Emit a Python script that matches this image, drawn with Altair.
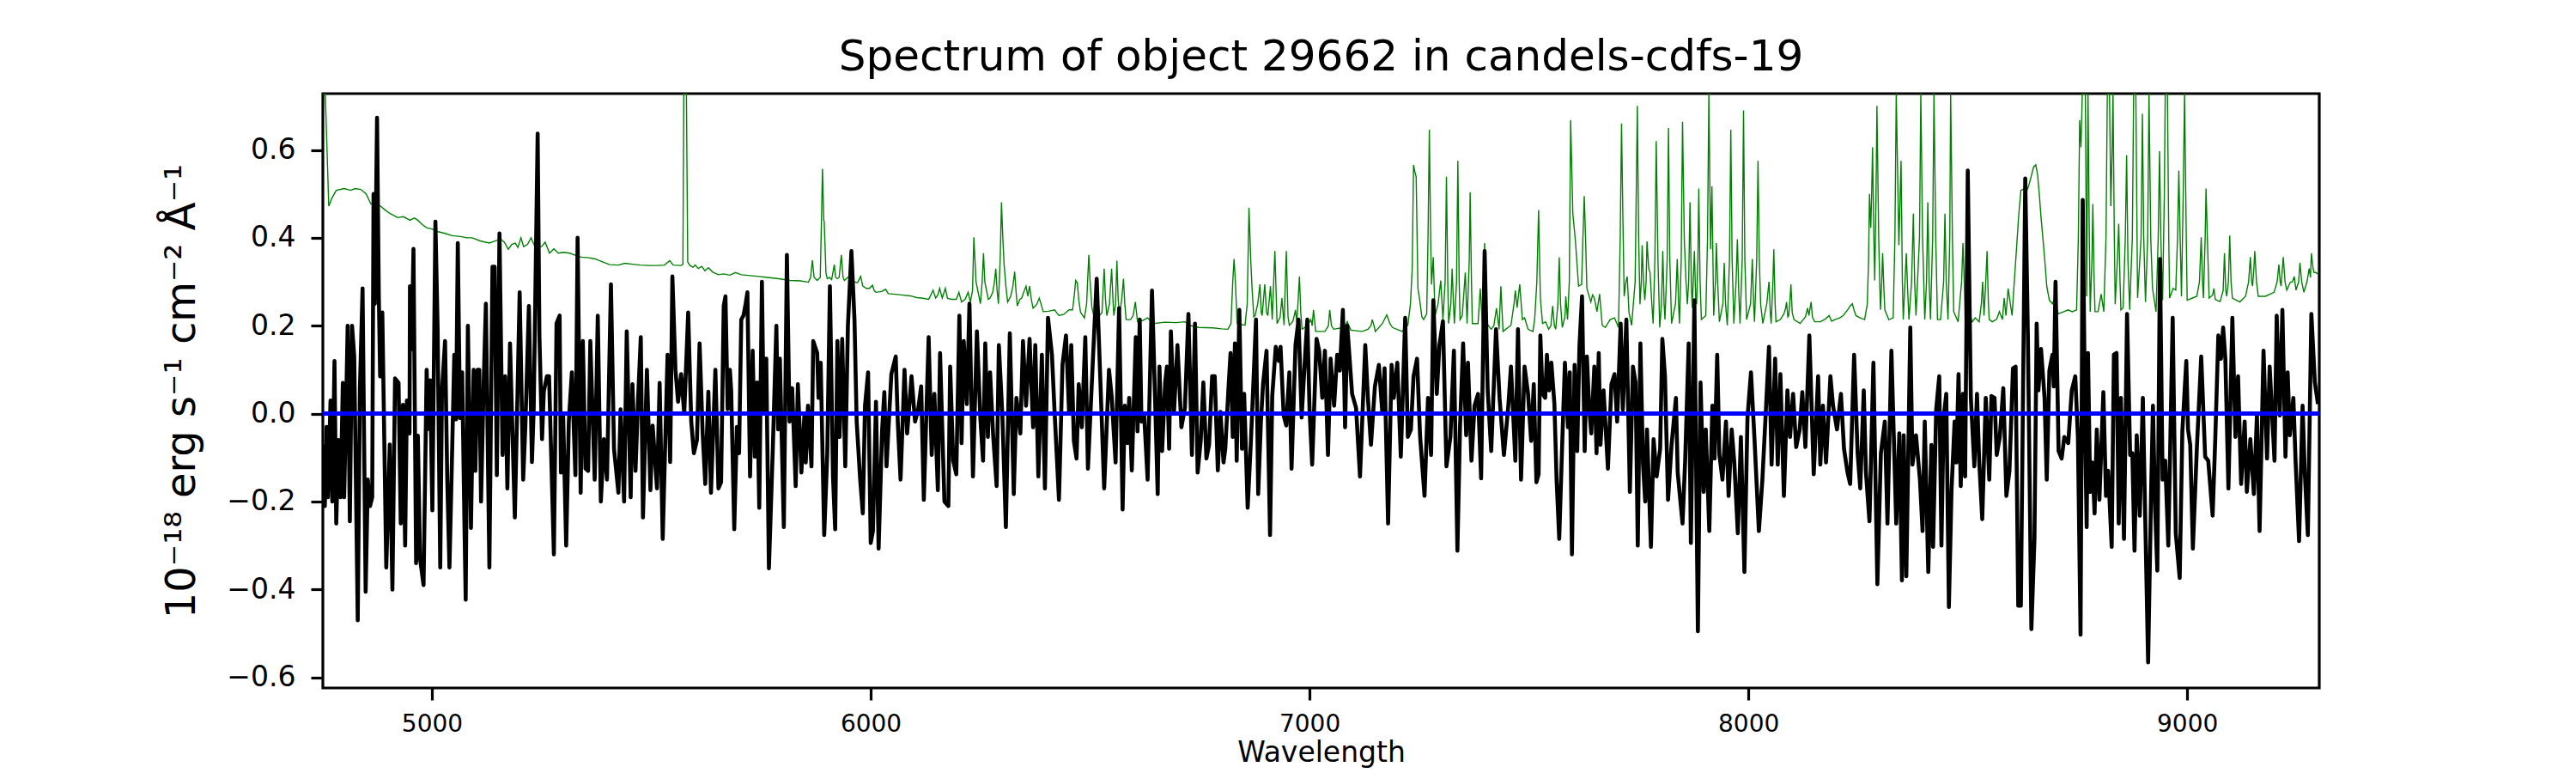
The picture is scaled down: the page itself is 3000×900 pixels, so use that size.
import altair as alt
import pandas as pd

TITLE = "Spectrum of object 29662 in candels-cdfs-19"
X_TITLE = "Wavelength"
Y_TITLE = "10⁻¹⁸ erg s⁻¹ cm⁻² Å⁻¹"
X_TICKS = [5000, 6000, 7000, 8000, 9000]
Y_TICKS = [-0.6, -0.4, -0.2, 0.0, 0.2, 0.4, 0.6]
X_DOMAIN = [4751.5, 9301]
Y_DOMAIN = [-0.624, 0.728]
ZERO_LEVEL = 0.0

# observed flux (wavelength, flux)
FLUX_A = [(4752,-0.07),(4756,-0.21),(4760,-0.03),(4763,-0.19),(4769,0.03),(4773,-0.2),(4778,0.12),(4782,-0.25),(4787,-0.06),(4792,-0.19),(4797,0.07),(4800,-0.19),(4805,0.04),(4808,0.2),(4813,-0.245),(4818,0.2),(4823,0.13),(4831,-0.47),(4836,0.06),(4842,0.285),(4849,-0.405),(4854,-0.15),(4859,-0.21),(4864,-0.19),(4867,0.5),(4870,0.25),(4875,0.673),(4879,0.27),(4882,0.085),(4887,0.23),(4896,-0.35),(4904,-0.07),(4910,-0.4),(4916,0.08),(4924,0.07),(4929,-0.25),(4934,0.02),(4939,-0.3),(4943,0.03),(4949,-0.045),(4950,0.29),(4954,0.147),(4958,0.375),(4964,-0.34),(4968,-0.05),(4973,-0.33),(4981,-0.39),(4988,0.1),(4992,-0.035),(4996,0.076),(5001,-0.22),(5008,0.437),(5013,0.196),(5019,-0.35),(5023,0.053),(5030,0.165),(5035,-0.15),(5040,-0.35),(5045,-0.134),(5051,0.134),(5055,-0.013),(5059,0.388),(5064,-0.01),(5069,0.094),(5074,-0.24),(5077,-0.423),(5082,0.2),(5089,-0.26),(5095,0.1),(5099,-0.13),(5104,0.1),(5108,0.1),(5112,-0.2),(5118,0.07),(5123,0.25),(5131,-0.35),(5138,0.334),(5143,0.334),(5148,-0.14),(5154,0.41),(5161,-0.094),(5167,0.085),(5172,-0.17),(5178,0.16),(5189,-0.236),(5200,0.276),(5208,-0.15),(5213,-0.027),(5221,0.245),(5228,-0.11),(5232,0.013),(5241,0.637),(5245,0.178),(5251,-0.058),(5255,0.05),(5262,0.085),(5267,0.085),(5278,-0.32),(5284,0.205),(5291,0.223),(5294,-0.134),(5299,0.0),(5306,-0.3),(5312,-0.018),(5319,0.094),(5327,-0.14),(5332,0.4),(5339,-0.18),(5344,0.165),(5350,-0.125),(5356,-0.13),(5361,0.165),(5371,-0.15),(5378,0.223),(5385,-0.2),(5392,-0.058),(5399,-0.15),(5408,0.294),(5415,-0.08),(5425,-0.18),(5430,0.01),(5438,-0.2),(5444,0.187),(5453,-0.19),(5457,0.067),(5464,-0.13),(5470,0.036),(5476,0.174),(5481,-0.236),(5490,0.1),(5498,-0.174),(5503,-0.027),(5513,-0.17),(5519,0.07),(5526,-0.285),(5537,0.134),(5543,-0.11),(5548,0.312),(5555,0.1),(5561,0.027),(5568,0.09),(5575,0.0),(5584,0.23),(5591,-0.018),(5597,-0.09),(5604,-0.06),(5610,0.16),(5617,-0.045),(5623,-0.16),(5630,0.05),(5636,-0.18),(5646,0.1),(5653,-0.17),(5659,-0.156),(5665,0.245),(5669,0.267),(5674,0.01),(5679,0.1)]
FLUX_B = [(5682,0.053),(5689,-0.263),(5695,-0.03),(5700,-0.09),(5705,0.214),(5710,0.223),(5715,0.25),(5719,0.276),(5725,-0.143),(5731,0.143),(5736,-0.098),(5741,0.071),(5746,-0.214),(5752,0.3),(5756,0.009),(5762,0.125),(5768,-0.352),(5777,-0.076),(5785,0.2),(5789,-0.036),(5793,0.125),(5802,-0.258),(5809,0.361),(5815,-0.018),(5821,0.058),(5829,-0.165),(5834,0.067),(5842,-0.134),(5849,0.0),(5852,-0.111),(5857,0.018),(5865,-0.12),(5869,0.165),(5878,0.138),(5881,0.036),(5886,0.116),(5894,-0.276),(5901,-0.09),(5907,0.29),(5914,-0.143),(5919,-0.263),(5924,0.165),(5929,-0.053),(5935,0.17),(5942,-0.12),(5948,0.2),(5956,0.37),(5963,0.214),(5968,-0.018),(5976,-0.15),(5982,-0.227),(5987,0.018),(5994,0.094),(6000,-0.294),(6005,-0.267),(6012,0.027),(6018,-0.307),(6026,-0.036),(6031,0.049),(6036,-0.12),(6047,0.09),(6057,0.13),(6062,-0.027),(6068,-0.15),(6077,0.1),(6083,-0.045),(6093,0.085),(6101,-0.018),(6108,0.009),(6115,0.062),(6121,-0.196),(6132,0.174),(6139,-0.094),(6145,0.045),(6153,-0.174),(6158,0.138),(6168,-0.2),(6177,-0.21),(6181,0.107),(6188,-0.107),(6195,-0.138),(6202,0.223),(6207,-0.067),(6212,0.165),(6219,0.022),(6225,0.25),(6233,-0.143),(6242,0.187),(6250,-0.013),(6256,-0.107),(6261,0.16),(6267,-0.053),(6272,0.094),(6279,-0.049),(6287,-0.165),(6292,0.156),(6300,-0.004),(6308,-0.258),(6317,0.183),(6326,-0.183),(6332,0.036),(6341,-0.045),(6347,0.165),(6354,0.018),(6362,0.17),(6370,-0.031),(6375,0.156),(6382,-0.143),(6390,0.134),(6397,-0.17),(6404,0.218),(6413,0.134),(6419,0.004),(6429,-0.196),(6437,0.111),(6445,0.178),(6452,0.004),(6457,0.156),(6463,-0.062),(6469,-0.102),(6474,0.067),(6481,-0.031),(6489,0.174),(6495,-0.125),(6506,0.116),(6515,0.307),(6523,0.085),(6532,-0.17),(6543,0.1),(6549,0.04),(6558,-0.111),(6566,0.24),(6574,-0.218),(6579,0.018),(6585,-0.067),(6589,0.036),(6595,-0.129)]
FLUX_C = [(6604,0.174),(6608,-0.04),(6613,0.214),(6617,-0.018),(6623,0.0),(6631,-0.15),(6641,0.28),(6647,0.071),(6654,-0.183),(6658,0.107),(6664,-0.085),(6671,0.071),(6675,0.107),(6680,-0.08),(6684,0.187),(6691,0.0),(6699,0.156),(6708,-0.031),(6716,0.013),(6724,0.227),(6732,-0.094),(6739,0.205),(6745,-0.134),(6752,-0.062),(6758,0.071),(6765,-0.102),(6771,-0.071),(6778,0.085),(6784,0.085),(6791,-0.129),(6797,0.004),(6804,-0.111),(6808,-0.08),(6815,0.053),(6820,0.138),(6825,-0.053),(6830,0.16),(6834,-0.107),(6840,0.236),(6846,-0.08),(6851,0.045),(6859,-0.214),(6866,-0.071),(6871,0.045),(6878,0.214),(6883,-0.183),(6889,-0.022),(6894,0.067),(6902,0.143),(6910,-0.276),(6915,0.04),(6923,0.152),(6930,0.12),(6934,0.152),(6941,-0.004),(6947,-0.027),(6954,0.094),(6959,-0.125),(6968,0.156),(6975,0.214),(6982,-0.009),(6990,0.134),(6995,0.214),(7000,0.009),(7006,-0.116),(7016,0.17),(7022,0.143),(7029,0.036),(7035,0.143),(7042,-0.094),(7048,0.125),(7056,0.018),(7063,0.134),(7069,0.098),(7076,0.236),(7081,-0.031),(7086,0.2),(7097,0.045),(7106,0.013),(7115,-0.143),(7127,0.156),(7133,0.036),(7140,-0.071),(7149,0.062),(7158,0.111),(7166,0.0),(7171,0.103),(7179,-0.25),(7187,0.111),(7192,0.036),(7200,0.116),(7208,-0.098),(7218,0.218),(7224,-0.053),(7231,-0.036),(7237,0.085),(7245,0.125),(7252,-0.053),(7262,-0.187),(7270,0.036),(7277,-0.094),(7282,0.258),(7290,0.045),(7296,0.156),(7304,0.21),(7312,-0.12),(7321,-0.053),(7329,0.143),(7337,-0.312),(7343,-0.027),(7350,0.16),(7357,-0.049),(7361,0.116),(7369,-0.107),(7376,0.018),(7384,0.045),(7391,-0.147),(7399,0.37),(7406,0.053),(7414,-0.085),(7425,0.192),(7433,0.036),(7443,-0.094),(7453,0.018),(7459,0.107),(7469,-0.107),(7475,0.192),(7482,-0.15),(7490,0.107),(7498,0.045),(7505,-0.062),(7511,0.067),(7517,-0.156)]
FLUX_D = [(7522,-0.138),(7526,0.178),(7531,0.045),(7537,0.036),(7541,0.134),(7546,0.053),(7551,0.116),(7558,0.022),(7563,-0.15),(7569,-0.285),(7576,-0.062),(7582,0.116),(7589,-0.031),(7593,0.094),(7598,-0.32),(7604,0.111),(7610,-0.085),(7615,0.152),(7621,0.267),(7627,-0.085),(7632,0.13),(7637,0.018),(7642,-0.045),(7649,0.107),(7654,-0.09),(7659,0.138),(7663,-0.071),(7670,0.053),(7680,-0.125),(7688,0.067),(7695,0.09),(7701,-0.018),(7709,0.205),(7714,0.009),(7722,0.214),(7730,-0.178),(7737,0.107),(7743,0.071),(7748,-0.3),(7754,0.16),(7760,-0.116),(7765,-0.2),(7769,-0.036),(7778,-0.303),(7784,-0.058),(7791,-0.143),(7799,-0.08),(7804,0.17),(7810,0.085),(7817,-0.196),(7825,-0.071),(7835,0.036),(7839,-0.134),(7850,-0.25),(7856,-0.107),(7864,0.16),(7869,-0.294),(7877,0.258),(7885,-0.495),(7891,0.071),(7898,-0.178),(7903,-0.036),(7911,-0.267),(7918,0.018),(7923,-0.102),(7929,0.134),(7934,-0.094),(7941,-0.15),(7949,-0.018),(7955,-0.187),(7962,-0.036),(7968,-0.111),(7976,-0.272),(7983,-0.053),(7991,-0.36),(7998,-0.009),(8006,0.094),(8014,-0.058),(8024,-0.267),(8032,-0.15),(8040,0.009),(8047,0.152),(8053,-0.116),(8061,0.125),(8067,-0.116),(8073,0.09),(8081,-0.187),(8089,0.053),(8095,-0.053),(8102,0.045),(8109,-0.076),(8117,-0.036),(8123,0.049),(8130,-0.076),(8139,0.178),(8149,-0.138),(8159,0.085),(8164,-0.116),(8170,0.018),(8177,-0.111),(8187,0.085),(8193,0.018),(8202,-0.036),(8211,0.045),(8218,-0.08),(8226,-0.134),(8232,-0.16),(8241,0.134),(8249,-0.09),(8255,-0.17),(8263,0.053),(8268,-0.134),(8276,-0.245),(8285,0.116),(8294,-0.388),(8302,-0.09),(8311,-0.018),(8317,-0.25),(8326,0.143),(8337,-0.25),(8344,-0.045),(8350,-0.379),(8354,-0.049),(8360,-0.37),(8369,0.196),(8374,-0.116),(8382,-0.049),(8391,-0.15),(8397,-0.267),(8402,-0.018),(8410,-0.36),(8417,-0.071),(8421,-0.303),(8428,0.009),(8435,0.085)]
FLUX_E = [(8440,-0.3),(8445,-0.009),(8451,0.045),(8457,-0.44),(8463,-0.174),(8470,-0.018),(8474,-0.111),(8479,0.09),(8484,-0.165),(8489,0.045),(8494,-0.143),(8500,0.553),(8507,0.036),(8515,-0.12),(8521,0.045),(8526,-0.107),(8533,-0.24),(8541,0.036),(8549,-0.15),(8554,0.04),(8561,0.036),(8566,-0.094),(8573,-0.053),(8581,0.058),(8588,-0.187),(8595,-0.13),(8603,0.103),(8609,0.107),(8615,-0.437),(8621,-0.437),(8631,0.535),(8637,0.178),(8645,-0.49),(8652,-0.285),(8657,0.205),(8661,0.053),(8667,0.147),(8675,0.036),(8680,-0.15),(8686,0.098),(8693,0.134),(8696,0.062),(8700,0.3),(8707,-0.085),(8714,-0.102),(8720,-0.053),(8729,-0.067),(8737,0.053),(8745,0.085),(8751,-0.053),(8757,-0.503),(8762,0.486),(8768,-0.08),(8771,-0.258),(8774,0.138),(8779,-0.178),(8784,-0.111),(8789,-0.227),(8794,-0.036),(8800,-0.196),(8809,0.049),(8815,-0.187),(8820,-0.13),(8828,-0.303),(8833,0.134),(8839,0.138),(8844,-0.25),(8849,0.036),(8856,-0.285),(8863,0.227),(8870,-0.094),(8875,-0.09),(8880,-0.312),(8885,-0.049),(8892,-0.232),(8899,0.036),(8905,-0.267),(8911,-0.566),(8918,-0.17),(8922,0.018),(8927,-0.218),(8932,-0.357),(8938,0.352),(8944,-0.15),(8950,-0.107),(8957,-0.3),(8967,0.218),(8974,-0.272),(8983,-0.374),(8989,-0.04),(8998,0.12),(9002,-0.036),(9007,-0.071),(9013,-0.307),(9022,-0.08),(9032,0.13),(9041,-0.098),(9048,-0.107),(9058,-0.232),(9064,-0.058),(9071,0.178),(9077,0.125),(9082,0.196),(9087,0.125),(9094,-0.17),(9103,0.218),(9110,-0.053),(9116,0.085),(9123,-0.16),(9131,-0.018),(9136,-0.178),(9144,-0.058),(9152,-0.183),(9159,-0.004),(9165,-0.267),(9174,0.143),(9182,-0.102),(9188,0.107),(9199,-0.107),(9204,0.223),(9211,-0.004),(9217,0.236),(9224,-0.098),(9229,0.094),(9234,-0.049),(9242,0.036),(9247,-0.107),(9255,-0.29),(9263,0.018),(9268,-0.134),(9275,-0.276),(9283,0.227),(9291,0.071),(9298,0.022)]

# noise / sky spectrum (wavelength, value)
ERR_A = [(4751,0.9),(4757,0.8),(4765,0.472),(4772,0.49),(4782,0.508),(4800,0.512),(4815,0.508),(4825,0.512),(4838,0.51),(4850,0.5),(4861,0.477),(4870,0.48),(4883,0.472),(4895,0.462),(4905,0.455),(4922,0.446),(4935,0.448),(4950,0.44),(4960,0.445),(4968,0.44),(4978,0.43),(4988,0.423),(5000,0.42),(5014,0.414),(5030,0.41),(5046,0.405),(5065,0.403),(5080,0.4),(5092,0.4),(5110,0.393),(5131,0.388),(5145,0.393),(5157,0.397),(5165,0.39),(5174,0.374),(5182,0.385),(5190,0.388),(5196,0.378),(5203,0.4),(5209,0.38),(5218,0.385),(5226,0.4),(5235,0.379),(5250,0.38),(5258,0.39),(5268,0.365),(5278,0.375),(5288,0.365),(5300,0.367),(5314,0.365),(5328,0.36),(5340,0.356),(5355,0.355),(5372,0.352),(5390,0.345),(5405,0.339),(5425,0.338),(5440,0.342),(5457,0.34),(5475,0.338),(5496,0.337),(5515,0.337),(5530,0.338),(5542,0.348),(5550,0.338),(5568,0.337),(5572,0.34),(5574,0.9),(5580,0.9),(5583,0.345),(5588,0.337),(5595,0.333),(5600,0.338),(5607,0.33),(5615,0.335),(5622,0.325),(5630,0.332),(5640,0.322),(5653,0.316),(5665,0.318),(5679,0.315)]
ERR_B = [(5692,0.321),(5705,0.316),(5725,0.314),(5745,0.312),(5764,0.31),(5790,0.307),(5816,0.303),(5840,0.302),(5858,0.299),(5863,0.31),(5867,0.349),(5871,0.31),(5878,0.303),(5885,0.31),(5888,0.45),(5890,0.557),(5893,0.44),(5894,0.437),(5898,0.32),(5901,0.307),(5906,0.31),(5911,0.305),(5917,0.339),(5920,0.31),(5924,0.307),(5928,0.31),(5933,0.361),(5937,0.31),(5940,0.303),(5950,0.312),(5955,0.305),(5962,0.3),(5970,0.298),(5977,0.312),(5982,0.29),(5990,0.285),(5997,0.285),(6004,0.292),(6008,0.28),(6012,0.276),(6025,0.278),(6034,0.283),(6040,0.273),(6051,0.272),(6070,0.27),(6090,0.268),(6105,0.264),(6116,0.263),(6132,0.26),(6137,0.27),(6142,0.281),(6148,0.263),(6153,0.27),(6157,0.285),(6163,0.263),(6170,0.285),(6175,0.262),(6185,0.26),(6195,0.26),(6201,0.276),(6207,0.254),(6215,0.26),(6222,0.276),(6227,0.254),(6232,0.28),(6235,0.401),(6240,0.3),(6243,0.285),(6250,0.25),(6254,0.3),(6257,0.365),(6260,0.3),(6263,0.285),(6268,0.26),(6272,0.263),(6278,0.276),(6282,0.3),(6285,0.33),(6288,0.28),(6291,0.25),(6295,0.35),(6298,0.481),(6301,0.4),(6304,0.339),(6308,0.29),(6312,0.254),(6319,0.267),(6324,0.29),(6328,0.323),(6331,0.28),(6334,0.245),(6340,0.26),(6344,0.263),(6350,0.28),(6354,0.29),(6358,0.267),(6362,0.29),(6366,0.26),(6370,0.24),(6378,0.248),(6384,0.263),(6388,0.25),(6393,0.232),(6405,0.233),(6419,0.236),(6425,0.228),(6429,0.223),(6440,0.226),(6452,0.236),(6460,0.236),(6464,0.27),(6467,0.303),(6471,0.297),(6474,0.26),(6478,0.231),(6487,0.218),(6492,0.25),(6497,0.361),(6500,0.3),(6504,0.241),(6509,0.22),(6513,0.26),(6515,0.303),(6518,0.26),(6521,0.223),(6527,0.23),(6532,0.33),(6535,0.26),(6538,0.223),(6544,0.249),(6549,0.33),(6552,0.26),(6554,0.223),(6558,0.25),(6561,0.348),(6564,0.26),(6567,0.223),(6572,0.26),(6576,0.307),(6579,0.25),(6582,0.214),(6592,0.214),(6598,0.223)]
ERR_C = [(6603,0.254),(6608,0.209),(6620,0.212),(6631,0.218),(6644,0.205),(6670,0.208),(6696,0.207),(6716,0.209),(6730,0.2),(6748,0.196),(6780,0.195),(6800,0.193),(6814,0.192),(6821,0.205),(6825,0.3),(6828,0.352),(6831,0.3),(6835,0.205),(6853,0.201),(6858,0.25),(6862,0.468),(6866,0.35),(6869,0.285),(6873,0.22),(6876,0.223),(6882,0.25),(6887,0.294),(6890,0.23),(6892,0.223),(6898,0.294),(6902,0.23),(6905,0.223),(6911,0.29),(6915,0.214),(6921,0.37),(6926,0.205),(6933,0.22),(6937,0.263),(6942,0.201),(6947,0.37),(6951,0.22),(6954,0.201),(6962,0.21),(6968,0.236),(6971,0.205),(6977,0.312),(6980,0.23),(6983,0.192),(6995,0.2),(7003,0.214),(7006,0.2),(7009,0.236),(7014,0.187),(7035,0.187),(7043,0.2),(7046,0.236),(7050,0.2),(7055,0.192),(7078,0.196),(7086,0.209),(7094,0.19),(7120,0.187),(7133,0.192),(7140,0.2),(7143,0.214),(7147,0.2),(7150,0.187),(7166,0.205),(7176,0.225),(7183,0.205),(7189,0.196),(7211,0.187),(7224,0.201),(7230,0.25),(7234,0.33),(7237,0.566),(7240,0.55),(7243,0.539),(7246,0.35),(7247,0.285),(7251,0.259),(7256,0.22),(7260,0.214),(7267,0.227),(7270,0.4),(7273,0.646),(7276,0.4),(7278,0.294),(7282,0.356),(7286,0.223),(7293,0.25),(7299,0.303),(7304,0.214),(7309,0.3),(7312,0.539),(7315,0.3),(7317,0.205),(7322,0.25),(7325,0.33),(7328,0.25),(7330,0.205),(7335,0.3),(7338,0.575),(7341,0.3),(7343,0.214),(7348,0.223),(7355,0.321),(7359,0.205),(7364,0.35),(7366,0.504),(7369,0.3),(7371,0.205),(7384,0.205),(7389,0.285),(7394,0.205),(7399,0.388),(7404,0.205),(7414,0.192),(7420,0.2),(7426,0.24),(7432,0.192),(7436,0.29),(7441,0.187),(7459,0.201),(7466,0.25),(7469,0.28),(7473,0.241),(7479,0.294),(7485,0.214),(7490,0.218),(7498,0.192),(7509,0.187),(7513,0.214),(7518,0.3)]
ERR_D = [(7522,0.463),(7526,0.263),(7531,0.205),(7538,0.209),(7545,0.192),(7550,0.2),(7554,0.245),(7558,0.2),(7561,0.192),(7566,0.25),(7569,0.356),(7572,0.25),(7576,0.196),(7582,0.22),(7584,0.267),(7588,0.214),(7592,0.3),(7595,0.668),(7600,0.455),(7606,0.392),(7613,0.29),(7620,0.294),(7623,0.4),(7626,0.495),(7629,0.4),(7632,0.285),(7641,0.254),(7645,0.27),(7649,0.263),(7655,0.232),(7661,0.272),(7667,0.201),(7674,0.196),(7685,0.214),(7695,0.218),(7704,0.196),(7708,0.4),(7711,0.66),(7714,0.45),(7717,0.267),(7721,0.3),(7724,0.312),(7728,0.23),(7734,0.201),(7742,0.3),(7747,0.7),(7750,0.4),(7753,0.249),(7756,0.3),(7758,0.383),(7761,0.3),(7764,0.258),(7767,0.3),(7769,0.392),(7773,0.33),(7776,0.321),(7780,0.25),(7783,0.205),(7787,0.35),(7790,0.62),(7794,0.35),(7798,0.196),(7802,0.25),(7805,0.37),(7808,0.25),(7810,0.214),(7815,0.35),(7818,0.65),(7821,0.35),(7825,0.205),(7834,0.25),(7838,0.352),(7841,0.25),(7843,0.205),(7847,0.35),(7850,0.664),(7854,0.397),(7858,0.3),(7861,0.249),(7864,0.3),(7867,0.481),(7870,0.3),(7872,0.241),(7877,0.37),(7880,0.26),(7882,0.249),(7885,0.35),(7887,0.512),(7890,0.3),(7893,0.214),(7903,0.223),(7907,0.4),(7910,0.8),(7913,0.45),(7914,0.374),(7917,0.517),(7920,0.3),(7921,0.223),(7925,0.3),(7927,0.388),(7930,0.3),(7934,0.209),(7942,0.25),(7945,0.343),(7948,0.25),(7952,0.201),(7957,0.35),(7960,0.646),(7963,0.35),(7967,0.205),(7972,0.3),(7975,0.397),(7978,0.28),(7981,0.205),(7986,0.35),(7989,0.69),(7992,0.35),(7996,0.214),(8005,0.25),(8009,0.352),(8012,0.25),(8014,0.209),(8019,0.35),(8022,0.575),(8025,0.35),(8028,0.249),(8033,0.205),(8042,0.25),(8047,0.3),(8050,0.23),(8052,0.205),(8056,0.3),(8058,0.374),(8061,0.25),(8063,0.209),(8073,0.214),(8081,0.227),(8085,0.24),(8087,0.254),(8090,0.22),(8092,0.223),(8095,0.26),(8097,0.294),(8100,0.23),(8104,0.214),(8118,0.205),(8130,0.22),(8135,0.24),(8138,0.223),(8143,0.254),(8146,0.22),(8151,0.209),(8164,0.209),(8175,0.215),(8184,0.223),(8190,0.21),(8197,0.214),(8208,0.218),(8216,0.223),(8226,0.236),(8232,0.245),(8237,0.25),(8241,0.235),(8245,0.223),(8255,0.218),(8265,0.214),(8271,0.249),(8274,0.35),(8276,0.5),(8279,0.423),(8281,0.5),(8283,0.606),(8286,0.4),(8288,0.303),(8291,0.5),(8293,0.7),(8297,0.4),(8301,0.236),(8304,0.3),(8306,0.365),(8309,0.28),(8311,0.236),(8320,0.214),(8330,0.218),(8334,0.4),(8337,0.8),(8341,0.5),(8343,0.383),(8346,0.5),(8348,0.575),(8351,0.3),(8353,0.214),(8357,0.3),(8360,0.365),(8363,0.28),(8366,0.214),(8372,0.3),(8376,0.455),(8379,0.3),(8382,0.223),(8390,0.4),(8393,0.8),(8397,0.4),(8402,0.214),(8406,0.3),(8409,0.481),(8412,0.3),(8415,0.214),(8420,0.4),(8423,0.8),(8427,0.4),(8431,0.214),(8438,0.214)]
ERR_E = [(8445,0.3),(8448,0.455),(8451,0.3),(8455,0.214),(8459,0.4),(8461,0.8),(8465,0.4),(8468,0.232),(8478,0.209),(8486,0.3),(8489,0.388),(8492,0.3),(8494,0.214),(8500,0.241),(8510,0.209),(8517,0.218),(8526,0.209),(8531,0.25),(8534,0.3),(8537,0.223),(8541,0.3),(8544,0.37),(8547,0.25),(8549,0.214),(8556,0.209),(8566,0.215),(8572,0.232),(8579,0.214),(8583,0.263),(8587,0.223),(8592,0.285),(8597,0.25),(8601,0.223),(8606,0.3),(8611,0.374),(8616,0.45),(8621,0.508),(8629,0.512),(8636,0.51),(8641,0.526),(8650,0.561),(8655,0.566),(8659,0.544),(8663,0.5),(8667,0.446),(8673,0.379),(8677,0.33),(8680,0.29),(8686,0.258),(8693,0.25),(8698,0.263),(8706,0.227),(8719,0.232),(8729,0.236),(8738,0.232),(8748,0.236),(8752,0.4),(8755,0.668),(8758,0.606),(8761,0.8),(8765,0.8),(8768,0.8),(8771,0.267),(8774,0.8),(8777,0.4),(8779,0.232),(8783,0.35),(8785,0.477),(8788,0.3),(8790,0.232),(8797,0.232),(8804,0.272),(8810,0.232),(8815,0.4),(8818,0.8),(8823,0.8),(8826,0.472),(8829,0.6),(8831,0.8),(8834,0.4),(8836,0.249),(8841,0.35),(8844,0.432),(8847,0.3),(8849,0.236),(8854,0.241),(8859,0.4),(8862,0.588),(8865,0.35),(8869,0.236),(8875,0.4),(8878,0.8),(8883,0.8),(8887,0.263),(8895,0.4),(8898,0.682),(8901,0.4),(8905,0.254),(8910,0.4),(8913,0.8),(8917,0.4),(8921,0.285),(8929,0.232),(8934,0.4),(8937,0.597),(8940,0.4),(8944,0.258),(8948,0.5),(8950,0.8),(8955,0.8),(8958,0.4),(8960,0.263),(8968,0.285),(8974,0.281),(8978,0.4),(8981,0.553),(8984,0.4),(8987,0.267),(8991,0.5),(8994,0.8),(8998,0.4),(9000,0.258),(9012,0.263),(9022,0.267),(9028,0.3),(9032,0.401),(9035,0.3),(9037,0.263),(9041,0.4),(9043,0.512),(9046,0.4),(9050,0.263),(9058,0.27),(9061,0.285),(9064,0.26),(9068,0.258),(9075,0.255),(9082,0.28),(9085,0.365),(9088,0.28),(9090,0.267),(9094,0.3),(9097,0.405),(9100,0.3),(9103,0.263),(9120,0.254),(9133,0.267),(9140,0.3),(9144,0.356),(9147,0.3),(9149,0.29),(9152,0.33),(9154,0.37),(9158,0.3),(9162,0.267),(9178,0.267),(9198,0.276),(9205,0.3),(9209,0.339),(9212,0.3),(9214,0.29),(9217,0.33),(9219,0.356),(9223,0.3),(9227,0.281),(9235,0.299),(9240,0.3),(9244,0.312),(9248,0.281),(9254,0.3),(9257,0.343),(9261,0.3),(9266,0.276),(9273,0.3),(9278,0.33),(9281,0.31),(9283,0.365),(9287,0.33),(9289,0.321),(9293,0.321),(9299,0.317)]

FONT = "DejaVu Sans"

flux_df = pd.DataFrame(FLUX_A + FLUX_B + FLUX_C + FLUX_D + FLUX_E, columns=["wavelength", "value"])
err_df = pd.DataFrame(ERR_A + ERR_B + ERR_C + ERR_D + ERR_E, columns=["wavelength", "value"])

W, H = 2325, 692

x_enc = alt.X(
    "wavelength:Q",
    scale=alt.Scale(domain=X_DOMAIN, nice=False, zero=False),
    axis=alt.Axis(
        values=X_TICKS, format="d", title=X_TITLE, grid=False, domain=False,
        tickSize=14, tickWidth=3.2, tickColor="black",
        labelFont=FONT, labelFontSize=28, labelColor="black", labelPadding=14,
        titleFont=FONT, titleFontSize=33, titleFontWeight="normal", titleColor="black",
        titleX=W / 2, titleY=85, titleAlign="center", titleBaseline="alphabetic",
    ),
)
y_enc = alt.Y(
    "value:Q",
    scale=alt.Scale(domain=Y_DOMAIN, nice=False, zero=False, clamp=True),
    axis=alt.Axis(
        values=Y_TICKS, format=".1f", title=Y_TITLE, grid=False, domain=False,
        tickSize=14, tickWidth=3.2, tickColor="black",
        labelFont=FONT, labelFontSize=33, labelColor="black", labelPadding=18,
        titleFont=FONT, titleFontSize=48, titleFontWeight="normal", titleColor="black",
        titleAngle=270, titleX=-150, titleY=H / 2, titleAlign="center", titleBaseline="alphabetic",
    ),
)

err_line = alt.Chart(err_df).mark_line(color="#008000", strokeWidth=1.4, clip=True).encode(
    x=x_enc, y=y_enc, order="wavelength:Q"
)
flux_line = alt.Chart(flux_df).mark_line(color="black", strokeWidth=4.6, strokeJoin="round", clip=True).encode(
    x="wavelength:Q", y="value:Q", order="wavelength:Q"
)
zero_line = alt.Chart(flux_df).mark_rule(color="#0000ff", strokeWidth=5).encode(
    y=alt.datum(ZERO_LEVEL)
)

chart = alt.layer(err_line, flux_line, zero_line).properties(
    width=W, height=H,
    background="white",
    title=alt.TitleParams(
        TITLE, font=FONT, fontSize=50, fontWeight="normal", color="black",
        anchor="middle", frame="group", offset=26, dy=49, baseline="alphabetic",
    ),
    autosize=alt.AutoSizeParams(type="none"),
    padding={"left": 368, "top": 101, "right": 280, "bottom": 98},
).configure_view(stroke="black", strokeWidth=3.2)

chart.save("out.html", embed_options={"renderer": "svg", "actions": False})
